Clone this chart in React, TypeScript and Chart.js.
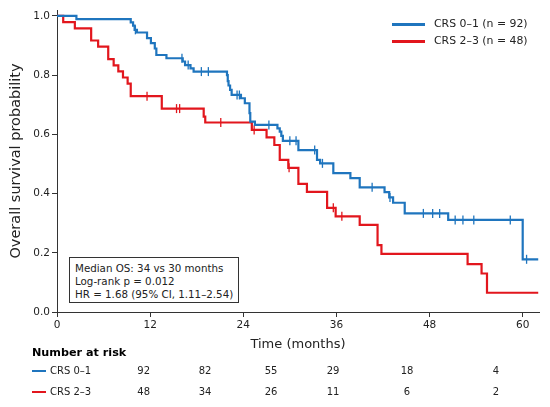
import { useEffect, useRef } from "react";
import { Chart, registerables } from "chart.js";
Chart.register(...registerables);

const FONT = "'DejaVu Sans', sans-serif";
const BLUE = "#1f75be";
const RED = "#e2161d";

// Kaplan-Meier steps, CRS 0-1 (time in months, survival after the event)
const blueTimes = [0, 2.5, 9.5, 9.8, 10.0, 10.3, 11.6, 12.1, 12.6, 12.8, 14.1, 16.2, 16.5, 17.2, 17.6, 21.9, 22.0, 22.1, 22.3, 22.5, 23.7, 24.2, 24.8, 24.9, 25.5, 28.4, 28.7, 28.9, 29.1, 31.1, 33.5, 33.9, 35.6, 37.8, 39.0, 42.2, 42.8, 43.3, 44.8, 50.4, 60.0, 62.0];
const blueSurv = [1.0, 0.989, 0.978, 0.967, 0.953, 0.944, 0.925, 0.908, 0.89, 0.868, 0.857, 0.846, 0.834, 0.823, 0.812, 0.8, 0.78, 0.765, 0.75, 0.733, 0.722, 0.705, 0.672, 0.643, 0.632, 0.62, 0.609, 0.595, 0.578, 0.547, 0.514, 0.502, 0.469, 0.452, 0.421, 0.405, 0.387, 0.369, 0.333, 0.311, 0.178, 0.178];
const blueCensorTimes = [10.1, 16.1, 16.9, 18.6, 19.5, 23.2, 23.5, 27.3, 30.0, 30.8, 33.2, 34.2, 40.6, 42.9, 47.2, 48.4, 49.3, 51.3, 52.3, 53.7, 58.4, 60.5];
const blueCensorSurv = [0.953, 0.857, 0.834, 0.812, 0.812, 0.733, 0.733, 0.632, 0.578, 0.578, 0.547, 0.502, 0.421, 0.387, 0.333, 0.333, 0.333, 0.311, 0.311, 0.311, 0.311, 0.178];

// Kaplan-Meier steps, CRS 2-3
const redTimes = [0, 0.8, 2.3, 4.4, 5.3, 6.6, 7.3, 7.9, 8.5, 9.1, 9.5, 13.5, 18.9, 19.1, 25.1, 27.0, 28.0, 28.7, 29.8, 31.1, 32.2, 34.8, 35.9, 39.0, 41.3, 41.8, 52.9, 54.7, 55.4, 62.0];
const redSurv = [1.0, 0.979, 0.958, 0.917, 0.896, 0.854, 0.833, 0.813, 0.792, 0.771, 0.729, 0.687, 0.66, 0.64, 0.615, 0.59, 0.564, 0.514, 0.487, 0.433, 0.406, 0.352, 0.323, 0.294, 0.226, 0.196, 0.162, 0.13, 0.065, 0.065];
const redCensorTimes = [11.6, 15.4, 15.8, 21.1, 25.4, 29.9, 35.6, 36.7];
const redCensorSurv = [0.729, 0.687, 0.687, 0.64, 0.615, 0.487, 0.352, 0.323];

const xTicks = [0, 12, 24, 36, 48, 60];
const yTicks = [0, 0.2, 0.4, 0.6, 0.8, 1.0];

const groupLabels = ["CRS 0\u20131 (n = 92)", "CRS 2\u20133 (n = 48)"];
const riskNames = ["CRS 0\u20131", "CRS 2\u20133"];
const riskBlue = [92, 82, 55, 29, 18, 4];
const riskRed = [48, 34, 26, 11, 6, 2];
const statsLines = ["Median OS: 34 vs 30 months", "Log-rank p = 0.012", "HR = 1.68 (95% CI, 1.11\u20132.54)"];

const riskX = [143.7, 205, 271, 333, 407, 496];

function pts(xs: number[], ys: number[]) {
    return xs.map((x, i) => ({ x, y: ys[i] }));
}

export default function App() {
    const canvasRef = useRef<HTMLCanvasElement>(null);

    useEffect(() => {
        const ctx = canvasRef.current?.getContext("2d");
        if (!ctx) return;
        const censor = (color: string) => ({
            type: "line",
            showLine: false,
            pointStyle: "line",
            rotation: 90,
            pointRadius: 4.5,
            pointBorderWidth: 1.3,
            borderColor: color,
            backgroundColor: color,
        });
        const chart = new Chart(ctx, {
            type: "line",
            data: {
                datasets: [
                    {
                        label: groupLabels[0],
                        data: pts(blueTimes, blueSurv),
                        borderColor: BLUE,
                        borderWidth: 2.2,
                        stepped: "before",
                        pointRadius: 0,
                        fill: false,
                    },
                    {
                        label: groupLabels[1],
                        data: pts(redTimes, redSurv),
                        borderColor: RED,
                        borderWidth: 2.2,
                        stepped: "before",
                        pointRadius: 0,
                        fill: false,
                    },
                    { ...censor(BLUE), data: pts(blueCensorTimes, blueCensorSurv) },
                    { ...censor(RED), data: pts(redCensorTimes, redCensorSurv) },
                ],
            },
            options: {
                animation: false,
                responsive: false,
                layout: { padding: { left: 0, right: 11, top: 10, bottom: 45 } },
                plugins: { legend: { display: false }, tooltip: { enabled: false } },
                scales: {
                    x: {
                        type: "linear",
                        min: 0,
                        max: 62.1,
                        afterBuildTicks: (s: any) => { s.ticks = xTicks.map((v) => ({ value: v })); },
                        afterFit: (s: any) => { s.height = 50; },
                        grid: { drawOnChartArea: false, drawTicks: true, tickLength: 5, tickColor: "#333", tickWidth: 1 },
                        border: { display: true, color: "#333", width: 1 },
                        ticks: { font: { family: FONT, size: 10.5 }, color: "#222", padding: 2, maxRotation: 0 },
                        title: { display: true, text: "Time (months)", font: { family: FONT, size: 13 }, color: "#222", padding: 10 },
                    },
                    y: {
                        type: "linear",
                        min: 0,
                        max: 1.02,
                        afterBuildTicks: (s: any) => { s.ticks = yTicks.map((v) => ({ value: v })); },
                        afterFit: (s: any) => { s.width = 57; },
                        grid: { drawOnChartArea: false, drawTicks: true, tickLength: 5, tickColor: "#333", tickWidth: 1 },
                        border: { display: true, color: "#333", width: 1 },
                        ticks: { font: { family: FONT, size: 10.5 }, color: "#222", padding: 2, callback: (v: any) => Number(v).toFixed(1) },
                        title: { display: true, text: "Overall survival probability", font: { family: FONT, size: 14.5 }, color: "#222", padding: 7.5 },
                    },
                },
            },
        } as any);
        return () => chart.destroy();
    }, []);

    const text: any = { position: "absolute", fontFamily: FONT, color: "#222", whiteSpace: "nowrap", lineHeight: 1 };

    return (
        <div style={{ position: "absolute", left: 0, top: 0, width: 550, height: 407, background: "#fff", overflow: "hidden" }}>
            <canvas ref={canvasRef} width={550} height={407} style={{ position: "absolute", left: 0, top: 0, width: 550, height: 407 }} />

            {groupLabels.map((lab, i) => (
                <div key={lab}>
                    <div style={{ position: "absolute", left: 392, top: 23.2 + i * 17, width: 33, height: 2.4, background: i === 0 ? BLUE : RED }} />
                    <div style={{ ...text, left: 434, top: 19 + i * 17, fontSize: 10.9 }}>{lab}</div>
                </div>
            ))}

            <div style={{ position: "absolute", left: 69, top: 257, width: 170, height: 46, border: "1px solid #333", boxSizing: "border-box", background: "#fff" }}>
                {statsLines.map((l, i) => (
                    <div key={l} style={{ ...text, left: 5, top: 4.5 + i * 13.3, fontSize: 10.3 }}>{l}</div>
                ))}
            </div>

            <div style={{ ...text, left: 32, top: 347, fontSize: 11.2, fontWeight: "bold", color: "#000" }}>Number at risk</div>
            {[riskBlue, riskRed].map((row, r) => (
                <div key={r}>
                    <div style={{ position: "absolute", left: 32, top: 370 + r * 20.5, width: 14, height: 2, background: r === 0 ? BLUE : RED }} />
                    <div style={{ ...text, left: 50, top: 366 + r * 20.5, fontSize: 10 }}>{riskNames[r]}</div>
                    {row.map((n, i) => (
                        <div key={i} style={{ ...text, left: riskX[i], top: 366 + r * 20.5, fontSize: 10, transform: "translateX(-50%)" }}>{n}</div>
                    ))}
                </div>
            ))}
        </div>
    );
}
